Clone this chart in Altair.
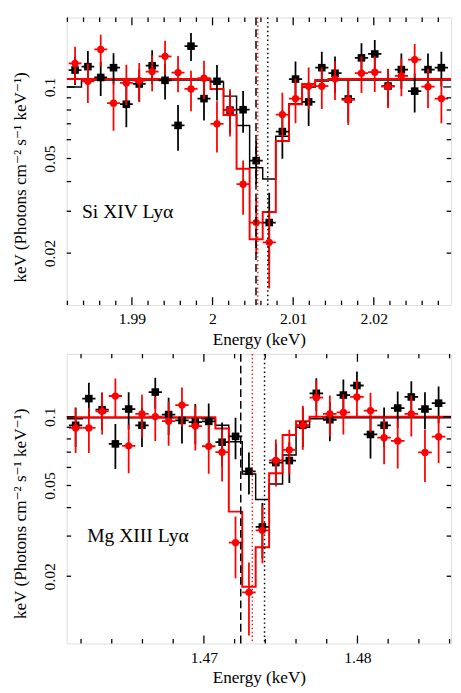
import altair as alt
import pandas as pd

FONT = "'Liberation Serif', 'Times New Roman', Times, 'DejaVu Serif', serif"

# ---------------- Si XIV Ly-alpha (top panel) ----------------
si_energy = [1.98295, 1.98454, 1.98613, 1.98772, 1.98931, 1.99091, 1.99251, 1.99411,
             1.99572, 1.99733, 1.99894, 2.00055, 2.00217, 2.00379, 2.00541, 2.00703,
             2.00866, 2.01029, 2.01192, 2.01355, 2.01519, 2.01683, 2.01847, 2.02012,
             2.02177, 2.02342, 2.02507, 2.02672, 2.02838]
si_black = [0.1178, 0.1217, 0.1096, 0.1205, 0.0846, 0.1029, 0.1228, 0.1066, 0.0689, 0.1484,
            0.0893, 0.1056, 0.0799, 0.0802, 0.0490, 0.0269, 0.0649, 0.1079, 0.0865, 0.1205,
            0.1142, 0.0890, 0.1325, 0.1376, 0.1009, 0.1183, 0.0960, 0.1183, 0.1205]
si_black_err = [0.016, 0.020, 0.018, 0.018, 0.017, 0.016, 0.020, 0.018, 0.015, 0.020,
                0.017, 0.018, 0.016, 0.016, 0.010, 0.009, 0.015, 0.020, 0.018, 0.020,
                0.020, 0.018, 0.020, 0.020, 0.018, 0.020, 0.018, 0.020, 0.020]
si_red = [0.1255, 0.1056, 0.1438, 0.0854, 0.1039, 0.1062, 0.1160, 0.1345, 0.1149, 0.0981,
          0.1089, 0.0700, 0.0799, 0.0390, 0.0269, 0.0222, 0.0765, 0.0893, 0.1007, 0.1007,
          0.1082, 0.0882, 0.1142, 0.1153, 0.1003, 0.1113, 0.1304, 0.1003, 0.0893]
si_red_err = [0.022, 0.020, 0.022, 0.020, 0.020, 0.020, 0.020, 0.022, 0.020, 0.019,
              0.020, 0.017, 0.018, 0.010, 0.007, 0.008, 0.018, 0.019, 0.020, 0.020,
              0.020, 0.019, 0.020, 0.020, 0.019, 0.020, 0.021, 0.019, 0.019]
si_model_black = [0.100, 0.107, 0.107, 0.107, 0.107, 0.107, 0.107, 0.107, 0.107, 0.107,
                  0.107, 0.105, 0.0915, 0.0689, 0.0457, 0.041, 0.062, 0.085, 0.100, 0.106,
                  0.107, 0.107, 0.107, 0.107, 0.107, 0.107, 0.107, 0.107, 0.107]
si_model_red = [0.108, 0.108, 0.108, 0.108, 0.108, 0.108, 0.108, 0.108, 0.108, 0.108,
                0.108, 0.098, 0.0762, 0.0453, 0.0229, 0.0298, 0.0592, 0.0846, 0.1029, 0.107,
                0.108, 0.108, 0.108, 0.108, 0.108, 0.108, 0.108, 0.108, 0.108]
si_lines = [2.00539, 2.00561, 2.00685]   # dashed black, dotted red, dotted black
si_xdomain = [1.98191, 2.02958]
si_ydomain = [0.0121, 0.1959]
si_label = ["Si XIV Lyα"]
si_label_pos = [1.98381, 0.02818]
si_x_major = [1.99, 2.00, 2.01, 2.02]
si_x_minor = [1.982, 1.984, 1.986, 1.988, 1.992, 1.994, 1.996, 1.998, 2.002, 2.004,
              2.006, 2.008, 2.012, 2.014, 2.016, 2.018, 2.022, 2.024, 2.026, 2.028]

# ---------------- Mg XII Ly-alpha (bottom panel) ----------------
mg_energy = [1.461647, 1.462509, 1.463372, 1.464236, 1.465101, 1.465967, 1.466834,
             1.467703, 1.468572, 1.469443, 1.470314, 1.471186, 1.472060, 1.472934,
             1.473810, 1.474686, 1.475564, 1.476442, 1.477322, 1.478203, 1.479084,
             1.479967, 1.480851, 1.481736, 1.482622, 1.483509, 1.484397, 1.485286]
mg_black = [0.0918, 0.1202, 0.1075, 0.0761, 0.1082, 0.0918, 0.1284, 0.1023, 0.0964, 0.0948,
            0.0955, 0.0774, 0.0821, 0.0577, 0.0329, 0.0630, 0.0643, 0.0918, 0.1268, 0.0971,
            0.1246, 0.1372, 0.0837, 0.0918, 0.1093, 0.1222, 0.1082, 0.1148]
mg_black_err = [0.018, 0.021, 0.020, 0.017, 0.020, 0.018, 0.020, 0.019, 0.020, 0.019,
                0.019, 0.017, 0.017, 0.012, 0.009, 0.013, 0.013, 0.018, 0.021, 0.019,
                0.021, 0.021, 0.018, 0.018, 0.020, 0.021, 0.020, 0.021]
mg_red = [0.0894, 0.0894, 0.1057, 0.1234, 0.0746, 0.1030, 0.1003, 0.0957, 0.1126, 0.0911,
          0.0743, 0.0700, 0.0281, 0.0170, 0.0318, 0.0645, 0.0717, 0.0918, 0.1213, 0.1030,
          0.1046, 0.1222, 0.1064, 0.0810, 0.0784, 0.1030, 0.0698, 0.0818]
mg_red_err = [0.020, 0.020, 0.022, 0.024, 0.018, 0.022, 0.022, 0.021, 0.022, 0.020,
              0.018, 0.018, 0.0085, 0.006, 0.009, 0.015, 0.016, 0.020, 0.023, 0.021,
              0.021, 0.022, 0.021, 0.019, 0.019, 0.021, 0.018, 0.019]
mg_model_black = [0.098, 0.099, 0.099, 0.099, 0.099, 0.099, 0.099, 0.099, 0.099, 0.099,
                  0.098, 0.0918, 0.0778, 0.0561, 0.0434, 0.0508, 0.068, 0.090, 0.098, 0.099,
                  0.099, 0.099, 0.099, 0.099, 0.099, 0.099, 0.099, 0.099]
mg_model_red = [0.0996, 0.0996, 0.0996, 0.0996, 0.0996, 0.0996, 0.0996, 0.0996, 0.0996, 0.0996,
                0.0996, 0.0888, 0.0384, 0.018, 0.0268, 0.0566, 0.0832, 0.0957, 0.100, 0.100,
                0.100, 0.100, 0.100, 0.100, 0.100, 0.100, 0.100, 0.100]
mg_lines = [1.47240, 1.47315, 1.47395]
mg_xdomain = [1.461064, 1.486096]
mg_ydomain = [0.01015, 0.1887]
mg_label = ["Mg XIII Lyα"]
mg_label_pos = [1.46240, 0.02826]
mg_x_major = [1.47, 1.48]
mg_x_minor = [1.462, 1.464, 1.466, 1.468, 1.472, 1.474, 1.476, 1.478, 1.482, 1.484, 1.486]

y_major = [0.1]
y_minor = [0.02, 0.03, 0.04, 0.05, 0.06, 0.07, 0.08, 0.09]
y_labels = [0.02, 0.05, 0.1]

Y_TITLE = "keV (Photons cm⁻² s⁻¹ keV⁻¹)"


def panel(energy, bv, be, rv, re, mb, mr, xdom, ydom, vlines, label, lpos,
          xmaj, xmin, W, H):
    xs = alt.Scale(domain=xdom, nice=False, zero=False)
    ys = alt.Scale(type="log", domain=ydom, nice=False)
    xax = alt.Axis(values=[v for v in xmaj if xdom[0] <= v <= xdom[1]], format="~g",
                   title="Energy (keV)", grid=False, ticks=False, tickSize=0, domain=False,
                   labelFont=FONT, labelFontSize=16, labelColor="black", labelPadding=6,
                   labelFlush=False, labelOverlap=False,
                   titleFont=FONT, titleFontSize=17.5, titleFontWeight="normal",
                   titleColor="black", titleX=W / 2, titleY=35, titleAlign="center",
                   titleBaseline="middle")
    yax = alt.Axis(values=y_labels, format="~g", title=Y_TITLE, grid=False, ticks=False,
                   tickSize=0, domain=False, labelFont=FONT, labelFontSize=16,
                   labelColor="black", labelAngle=270, labelAlign="center",
                   labelBaseline="alphabetic", labelPadding=12, labelFlush=False,
                   labelOverlap=False, titleFont=FONT, titleFontSize=17.5,
                   titleFontWeight="normal", titleColor="black", titleAngle=270,
                   titleX=-47, titleY=163, titleAlign="center", titleBaseline="middle")

    def X(f):
        return alt.X(f, type="quantitative", scale=xs, axis=xax)

    def Y(f):
        return alt.Y(f, type="quantitative", scale=ys, axis=yax)

    n = len(energy)
    lo, hi = [], []
    for i in range(n):
        dl = energy[i] - energy[i - 1] if i > 0 else energy[1] - energy[0]
        dr = energy[i + 1] - energy[i] if i < n - 1 else energy[-1] - energy[-2]
        lo.append(energy[i] - dl / 2)
        hi.append(energy[i] + dr / 2)

    pts = pd.DataFrame({
        "E": energy, "lo": lo, "hi": hi,
        "b": bv, "b1": [v - e for v, e in zip(bv, be)], "b2": [v + e for v, e in zip(bv, be)],
        "r": rv, "r1": [v - e for v, e in zip(rv, re)], "r2": [v + e for v, e in zip(rv, re)],
    })
    model = pd.DataFrame({
        "E": [xdom[0]] + list(energy) + [xdom[1]],
        "mb": [mb[0]] + list(mb) + [mb[-1]],
        "mr": [mr[0]] + list(mr) + [mr[-1]],
    })
    base_p = alt.Chart(pts)
    base_m = alt.Chart(model)

    layers = []
    layers.append(base_m.mark_line(interpolate="step", color="black", strokeWidth=1.5,
                                   clip=True).encode(x=X("E"), y=Y("mb")))
    layers.append(base_m.mark_line(interpolate="step", color="#ff0000", strokeWidth=2,
                                   clip=True).encode(x=X("E"), y=Y("mr")))
    for col, key, shape in [("black", "b", "square"), ("#ff0000", "r", "circle")]:
        layers.append(base_p.mark_rule(color=col, strokeWidth=1.8, clip=True).encode(
            x=X("E"), y=Y(key + "1"), y2=alt.Y2(key + "2")))
        layers.append(base_p.mark_rule(color=col, strokeWidth=1.8, clip=True).encode(
            x=X("lo"), x2=alt.X2("hi"), y=Y(key)))
        if shape == "square":
            layers.append(base_p.mark_square(color=col, size=60, opacity=1).encode(
                x=X("E"), y=Y(key)))
        else:
            layers.append(base_p.mark_circle(color=col, size=55, opacity=1).encode(
                x=X("E"), y=Y(key)))

    vdf = pd.DataFrame({"E": vlines, "k": ["dash", "rdot", "kdot"]})
    layers.append(alt.Chart(vdf).transform_filter("datum.k == 'dash'").mark_rule(
        color="black", strokeWidth=1.5, strokeDash=[8, 4]).encode(x=X("E")))
    layers.append(alt.Chart(vdf).transform_filter("datum.k == 'rdot'").mark_rule(
        color="#ff0000", strokeWidth=1.3, strokeDash=[1.5, 2.5]).encode(x=X("E")))
    layers.append(alt.Chart(vdf).transform_filter("datum.k == 'kdot'").mark_rule(
        color="black", strokeWidth=1.5, strokeDash=[1.5, 3]).encode(x=X("E")))

    ldf = pd.DataFrame({"x": [lpos[0]], "y": [lpos[1]], "t": label})
    layers.append(alt.Chart(ldf).mark_text(align="left", baseline="alphabetic", font=FONT,
                                           fontSize=20, color="black").encode(
        x=X("x"), y=Y("y"), text="t:N"))

    # inward tick marks on all four sides
    xmaj_df = pd.DataFrame({"t": xmaj})
    xmin_df = pd.DataFrame({"t": xmin})
    ymaj_df = pd.DataFrame({"t": y_major})
    ymin_df = pd.DataFrame({"t": y_minor})
    tk = dict(color="black", strokeWidth=1.3)
    for df, ln in [(xmaj_df, 8), (xmin_df, 4.5)]:
        layers.append(alt.Chart(df).mark_rule(**tk).encode(
            x=X("t"), y=alt.value(H), y2=alt.value(H - ln)))
        layers.append(alt.Chart(df).mark_rule(**tk).encode(
            x=X("t"), y=alt.value(0), y2=alt.value(ln)))
    for df, ln in [(ymaj_df, 8), (ymin_df, 4.5)]:
        layers.append(alt.Chart(df).mark_rule(**tk).encode(
            y=Y("t"), x=alt.value(0), x2=alt.value(ln)))
        layers.append(alt.Chart(df).mark_rule(**tk).encode(
            y=Y("t"), x=alt.value(W), x2=alt.value(W - ln)))

    return alt.layer(*layers).properties(width=W, height=H)


top = panel(si_energy, si_black, si_black_err, si_red, si_red_err, si_model_black,
            si_model_red, si_xdomain, si_ydomain, si_lines, si_label, si_label_pos,
            si_x_major, si_x_minor, 393, 294)
bottom = panel(mg_energy, mg_black, mg_black_err, mg_red, mg_red_err, mg_model_black,
               mg_model_red, mg_xdomain, mg_ydomain, mg_lines, mg_label, mg_label_pos,
               mg_x_major, mg_x_minor, 393, 296)

chart = alt.vconcat(top, bottom, spacing=50, bounds="flush").properties(
    padding={"left": 3, "top": 0, "right": 0, "bottom": 0}
).configure_view(stroke="black", strokeWidth=1.6).configure(background="white")

chart.save("out.html", embed_options={"renderer": "svg", "actions": False})
